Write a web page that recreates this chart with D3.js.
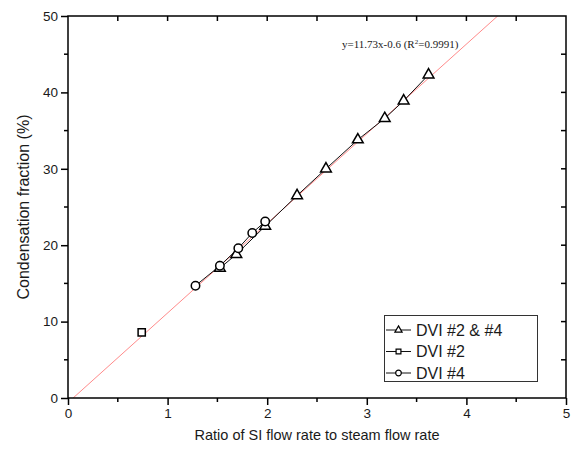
<!DOCTYPE html>
<html>
<head>
<meta charset="UTF-8">
<script src="https://d3js.org/d3.v7.min.js"></script>
<style>
  body { margin: 0; background: #fff; }
  text { font-family: "Liberation Sans", Arial, sans-serif; fill: #1a1a1a; }
</style>
</head>
<body>
<div id="chart"></div>
<script>
// data
const triX = [1.525, 1.69, 1.98, 2.30, 2.59, 2.91, 3.18, 3.37, 3.62];
const triY = [17.0, 18.8, 22.5, 26.5, 30.0, 33.8, 36.6, 38.9, 42.3];
const sqX = [0.74];
const sqY = [8.6];
const cirX = [1.28, 1.525, 1.71, 1.85, 1.98];
const cirY = [14.7, 17.3, 19.6, 21.6, 23.1];
const fitSlope = 11.73, fitIntercept = -0.6;
const xTicks = [0, 1, 2, 3, 4, 5];
const yTicks = [0, 10, 20, 30, 40, 50];
const legendNames = ["DVI #2 & #4", "DVI #2", "DVI #4"];

const width = 573, height = 453;
const svg = d3.select("#chart").append("svg")
  .attr("width", width).attr("height", height);

const x = d3.scaleLinear().domain([0, 5]).range([68, 566]);
const y = d3.scaleLinear().domain([0, 50]).range([398, 16]);

svg.append("clipPath").attr("id", "clip")
  .append("rect").attr("x", 68).attr("y", 16).attr("width", 498).attr("height", 382);

// fit line
const fx0 = -fitIntercept / fitSlope, fx1 = (50 - fitIntercept) / fitSlope;
svg.append("line").attr("clip-path", "url(#clip)")
  .attr("x1", x(fx0)).attr("y1", y(0)).attr("x2", x(fx1)).attr("y2", y(50))
  .attr("stroke", "#ff8a8a").attr("stroke-width", 1);

svg.append("text").attr("x", 342).attr("y", 48)
  .style("font-family", "'Liberation Serif', 'Times New Roman', serif")
  .style("font-size", "11px")
  .html('y=11.73x-0.6 (R<tspan dy="-4" font-size="7">2</tspan><tspan dy="4">=0.9991)</tspan>');

const line = d3.line().x(d => x(d[0])).y(d => y(d[1]));
const series = [
  { xs: triX, ys: triY, shape: d3.symbolTriangle, size: 50 },
  { xs: sqX, ys: sqY, shape: d3.symbolSquare, size: 52 },
  { xs: cirX, ys: cirY, shape: d3.symbolCircle, size: 56 }
];

series.forEach(s => {
  const pts = s.xs.map((v, i) => [v, s.ys[i]]);
  if (pts.length > 1) {
    svg.append("path").attr("d", line(pts))
      .attr("fill", "none").attr("stroke", "#111").attr("stroke-width", 1);
  }
});
series.forEach(s => {
  const pts = s.xs.map((v, i) => [v, s.ys[i]]);
  svg.selectAll(null).data(pts).enter().append("path")
    .attr("transform", d => `translate(${x(d[0])},${y(d[1])})`)
    .attr("d", d3.symbol().type(s.shape).size(s.size))
    .attr("fill", "#fff").attr("stroke", "#000").attr("stroke-width", 1.5);
});

// axes
const gx = svg.append("g").attr("transform", "translate(0,398)")
  .call(d3.axisBottom(x).tickValues(xTicks).tickSize(7).tickPadding(3).tickFormat(d3.format("d")));
const gy = svg.append("g").attr("transform", "translate(68,0)")
  .call(d3.axisLeft(y).tickValues(yTicks).tickSize(7).tickPadding(3).tickFormat(d3.format("d")));
[gx, gy].forEach(g => {
  g.select(".domain").remove();
  g.selectAll("line").attr("stroke", "#000").attr("stroke-width", 1.5);
  g.selectAll("text").style("font-size", "13.5px").attr("fill", "#1a1a1a");
});

// minor ticks
const minorX = d3.range(0.5, 5, 1), minorY = d3.range(5, 50, 10);
svg.selectAll(null).data(minorX).enter().append("line")
  .attr("x1", d => x(d)).attr("x2", d => x(d)).attr("y1", 398).attr("y2", 402)
  .attr("stroke", "#000").attr("stroke-width", 1.5);
svg.selectAll(null).data(minorY).enter().append("line")
  .attr("y1", d => y(d)).attr("y2", d => y(d)).attr("x1", 68).attr("x2", 64)
  .attr("stroke", "#000").attr("stroke-width", 1.5);

// mirror ticks top and right (inward)
const allX = d3.range(0.5, 5, 0.5), allY = d3.range(5, 50, 5);
svg.selectAll(null).data(allX).enter().append("line")
  .attr("x1", d => x(d)).attr("x2", d => x(d)).attr("y1", 16).attr("y2", 21)
  .attr("stroke", "#000").attr("stroke-width", 1.5);
svg.selectAll(null).data(allY).enter().append("line")
  .attr("y1", d => y(d)).attr("y2", d => y(d)).attr("x1", 566).attr("x2", 561)
  .attr("stroke", "#000").attr("stroke-width", 1.5);

// frame
svg.append("rect").attr("x", 68).attr("y", 16).attr("width", 498).attr("height", 382)
  .attr("fill", "none").attr("stroke", "#000").attr("stroke-width", 1.5);

// axis titles
svg.append("text").attr("x", 317).attr("y", 440).attr("text-anchor", "middle")
  .style("font-size", "14.5px").text("Ratio of SI flow rate to steam flow rate");
svg.append("text").attr("transform", "translate(29,207) rotate(-90)").attr("text-anchor", "middle")
  .style("font-size", "16px").text("Condensation fraction (%)");

// legend
const lg = svg.append("g");
lg.append("rect").attr("x", 384.5).attr("y", 315.5).attr("width", 153).attr("height", 66)
  .attr("fill", "#fff").attr("stroke", "#333").attr("stroke-width", 1);
legendNames.forEach((name, i) => {
  const ly = 330 + i * 21.5;
  lg.append("line").attr("x1", 386).attr("x2", 411).attr("y1", ly).attr("y2", ly)
    .attr("stroke", "#111").attr("stroke-width", 1);
  lg.append("path").attr("transform", `translate(398.5,${ly})`)
    .attr("d", d3.symbol().type(series[i].shape).size(series[i].size * 0.45))
    .attr("fill", "#fff").attr("stroke", "#000").attr("stroke-width", 1.2);
  lg.append("text").attr("x", 416).attr("y", ly + 5.5)
    .style("font-size", "16px").text(name);
});
</script>
</body>
</html>
